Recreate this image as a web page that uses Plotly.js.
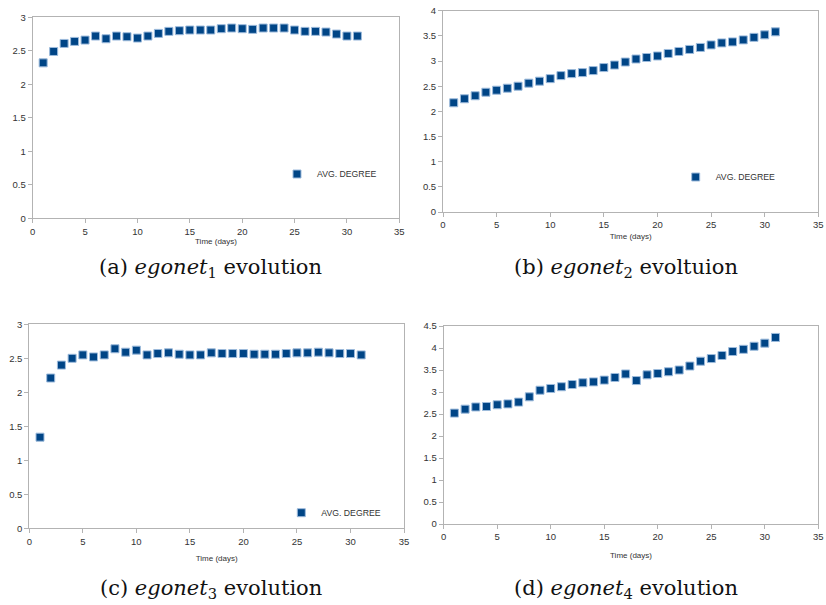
<!DOCTYPE html>
<html><head><meta charset="utf-8">
<script src="https://cdn.plot.ly/plotly-3.0.1.min.js"></script>
<style>body{margin:0;background:#fff}#c{width:826px;height:605px}</style>
</head><body><div id="c"></div>
<script>
const days = [1,2,3,4,5,6,7,8,9,10,11,12,13,14,15,16,17,18,19,20,21,22,23,24,25,26,27,28,29,30,31];
const egonet1 = [2.32,2.49,2.61,2.64,2.66,2.72,2.68,2.72,2.71,2.69,2.72,2.76,2.79,2.80,2.81,2.81,2.81,2.83,2.84,2.83,2.82,2.84,2.84,2.84,2.81,2.79,2.79,2.78,2.75,2.72,2.72];
const egonet2 = [2.17,2.25,2.31,2.38,2.42,2.46,2.50,2.56,2.60,2.65,2.71,2.75,2.77,2.81,2.87,2.92,2.98,3.04,3.07,3.10,3.15,3.19,3.23,3.27,3.32,3.36,3.38,3.42,3.47,3.52,3.58];
const egonet3 = [1.34,2.21,2.40,2.50,2.55,2.52,2.55,2.64,2.59,2.62,2.55,2.57,2.58,2.56,2.55,2.55,2.58,2.57,2.57,2.57,2.56,2.56,2.56,2.57,2.58,2.58,2.59,2.58,2.57,2.57,2.55];
const egonet4 = [2.52,2.61,2.66,2.67,2.71,2.73,2.77,2.89,3.04,3.08,3.12,3.17,3.21,3.23,3.27,3.33,3.41,3.26,3.39,3.42,3.46,3.50,3.59,3.70,3.76,3.83,3.92,3.97,4.04,4.11,4.24];
const seriesName = "AVG. DEGREE";
const captions = ["(a) <i>egonet</i><sub>1</sub> evolution","(b) <i>egonet</i><sub>2</sub> evoltuion","(c) <i>egonet</i><sub>3</sub> evolution","(d) <i>egonet</i><sub>4</sub> evolution"];
const xTitle = "Time (days)";

const W=826,H=605;
const px=v=>v/W, py=v=>1-v/H;
const marker={symbol:'square',size:8,color:'#004586',line:{color:'#9dbbdc',width:1}};
const ys=[egonet1,egonet2,egonet3,egonet4];
const legendKeys=['legend','legend2','legend3',null];
const traces=ys.map((y,i)=>({
  x:days,y:y,type:'scatter',mode:'markers',name:seriesName,marker:marker,
  xaxis:i?'x'+(i+1):'x', yaxis:i?'y'+(i+1):'y',
  showlegend: legendKeys[i]!==null, legend: legendKeys[i]||'legend', hoverinfo:'skip'
}));
const font={family:'"Liberation Sans", Arial, sans-serif',size:9.5,color:'#333'};
function xa(l,r,anchor,stand){return {domain:[px(l),px(r)],anchor:anchor,range:[0,35],dtick:5,tick0:0,showgrid:false,zeroline:false,showline:true,mirror:true,linecolor:'#b3b3b3',linewidth:1,ticks:'outside',ticklen:4,tickcolor:'#b3b3b3',tickfont:font,title:{text:xTitle,font:{family:font.family,size:8,color:'#333'},standoff:stand}};}
function ya(t,b,anchor,max){return {domain:[py(b),py(t)],anchor:anchor,range:[0,max],dtick:0.5,tick0:0,showgrid:false,zeroline:false,showline:true,mirror:true,linecolor:'#b3b3b3',linewidth:1,ticks:'outside',ticklen:4,tickcolor:'#b3b3b3',tickfont:font};}
const legFont={family:font.family,size:8.7,color:'#333'};
function leg(x,y){return {x:px(x),y:py(y),xanchor:'left',yanchor:'middle',bgcolor:'rgba(0,0,0,0)',borderwidth:0,font:legFont,itemwidth:30};}
const capFont={family:'"DejaVu Serif","Liberation Serif",serif',size:21,color:'#111'};
const layout={
  width:W,height:H,margin:{l:0,r:0,t:0,b:0},paper_bgcolor:'#fff',plot_bgcolor:'#fff',
  xaxis:xa(32.7,399.3,'y',0), yaxis:ya(17.3,218.3,'x',3),
  xaxis2:xa(443,818.3,'y2',3), yaxis2:ya(10.7,212,'x2',4),
  xaxis3:xa(29.3,404,'y3',9), yaxis3:ya(324.3,528.3,'x3',3),
  xaxis4:xa(443.7,818.3,'y4',10), yaxis4:ya(326,524,'x4',4.5),
  legend:leg(277,174), legend2:leg(675.7,177), legend3:leg(281.3,512.7),
  annotations:[[210,268],[626,268],[211,589],[626,589]].map((p,i)=>({
    text:captions[i],x:px(p[0]),y:py(p[1]),xref:'paper',yref:'paper',xanchor:'center',yanchor:'middle',showarrow:false,font:capFont}))
};
Plotly.newPlot('c',traces,layout,{staticPlot:true,displayModeBar:false});
</script></body></html>
